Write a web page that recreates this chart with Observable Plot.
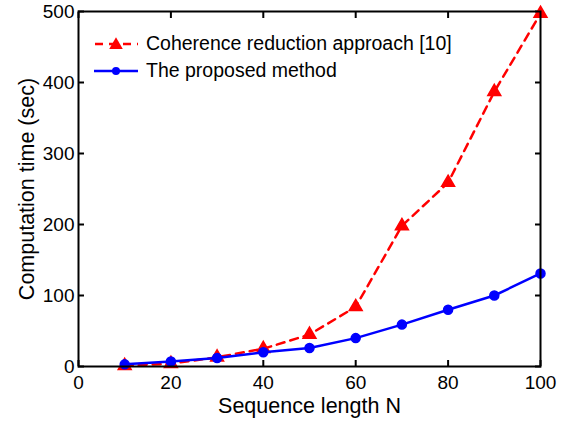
<!DOCTYPE html>
<html>
<head>
<meta charset="utf-8">
<script src="https://cdn.jsdelivr.net/npm/d3@7"></script>
<script src="https://cdn.jsdelivr.net/npm/@observablehq/plot@0.6"></script>
<style>
  html, body { margin: 0; padding: 0; background: #fff; }
  #wrap { position: relative; width: 565px; height: 425px; font-family: "Liberation Sans", Arial, Helvetica, sans-serif; }
  #wrap svg g[aria-label="x-axis tick label"], #wrap svg g[aria-label="y-axis tick label"] { font-size: 19px !important; }
  #legend { position: absolute; left: 92px; top: 30px; font-size: 19.5px; color: #000; }
  .row { display: flex; align-items: center; height: 27px; }
  .row svg { margin-right: 6px; }
</style>
</head>
<body>
<div id="wrap"></div>
<script>
const N = [10, 20, 30, 40, 50, 60, 70, 80, 90, 100];
const coherence = [1, 4, 13, 25, 45, 84, 198, 259, 387, 497];
const proposed = [3, 7, 12, 20, 26, 40, 59, 80, 100, 131];
const xTicks = [0, 20, 40, 60, 80, 100];
const yTicks = [0, 100, 200, 300, 400, 500];
const seriesNames = ["Coherence reduction approach [10]", "The proposed method"];
const xLabel = "Sequence length N";
const yLabel = "Computation time (sec)";
const red = "#ff0000", blue = "#0000ff";

const redData = N.map((n, i) => ({n, v: coherence[i]}));
const blueData = N.map((n, i) => ({n, v: proposed[i]}));

const plot = Plot.plot({
  width: 565,
  height: 425,
  marginLeft: 78,
  marginRight: 25,
  marginTop: 11,
  marginBottom: 59,
  style: {fontFamily: '"Liberation Sans", Arial, Helvetica, sans-serif', fontSize: "19px", background: "#fff", color: "#000"},
  x: {domain: [0, 100]},
  y: {domain: [0, 500]},
  marks: [
    Plot.axisX(xTicks, {anchor: "bottom", tickSize: -6, tickPadding: 15, fontSize: 19, label: null, strokeWidth: 2}),
    Plot.axisX(xTicks, {anchor: "top", tickSize: -6, tickFormat: () => "", label: null, strokeWidth: 2}),
    Plot.axisY(yTicks, {anchor: "left", tickSize: -6, tickPadding: 10, fontSize: 19, label: null, strokeWidth: 2}),
    Plot.axisY(yTicks, {anchor: "right", tickSize: -6, tickFormat: () => "", label: null, strokeWidth: 2}),
    Plot.line(redData, {x: "n", y: "v", stroke: red, strokeWidth: 2.5, strokeDasharray: "8,6"}),
    Plot.dot(redData, {x: "n", y: "v", symbol: "triangle", r: 4.8, fill: red, stroke: red, strokeWidth: 1.5}),
    Plot.line(blueData, {x: "n", y: "v", stroke: blue, strokeWidth: 2.5}),
    Plot.dot(blueData, {x: "n", y: "v", r: 4.5, fill: blue, stroke: blue}),
    Plot.frame({stroke: "#000", strokeWidth: 2}),
    Plot.text([xLabel], {frameAnchor: "bottom", dy: 46, fontSize: 21.5, fill: "#000"}),
    Plot.text([yLabel], {frameAnchor: "left", textAnchor: "middle", rotate: -90, dx: -51, fontSize: 21.5, fill: "#000"})
  ]
});
const wrap = document.getElementById("wrap");
wrap.appendChild(plot);

const legend = document.createElement("div");
legend.id = "legend";
legend.innerHTML = `
  <div class="row"><svg width="48" height="16"><line x1="2" y1="8" x2="46" y2="8" stroke="${red}" stroke-width="2.5" stroke-dasharray="8,6" stroke-dashoffset="-1"/><path d="${d3.symbol(d3.symbolTriangle, 80)()}" transform="translate(24,9)" fill="${red}"/></svg><span>${seriesNames[0]}</span></div>
  <div class="row"><svg width="48" height="16"><line x1="2" y1="8" x2="46" y2="8" stroke="${blue}" stroke-width="2.5"/><circle cx="24" cy="8" r="4" fill="${blue}"/></svg><span>${seriesNames[1]}</span></div>`;
wrap.appendChild(legend);
</script>
</body>
</html>
